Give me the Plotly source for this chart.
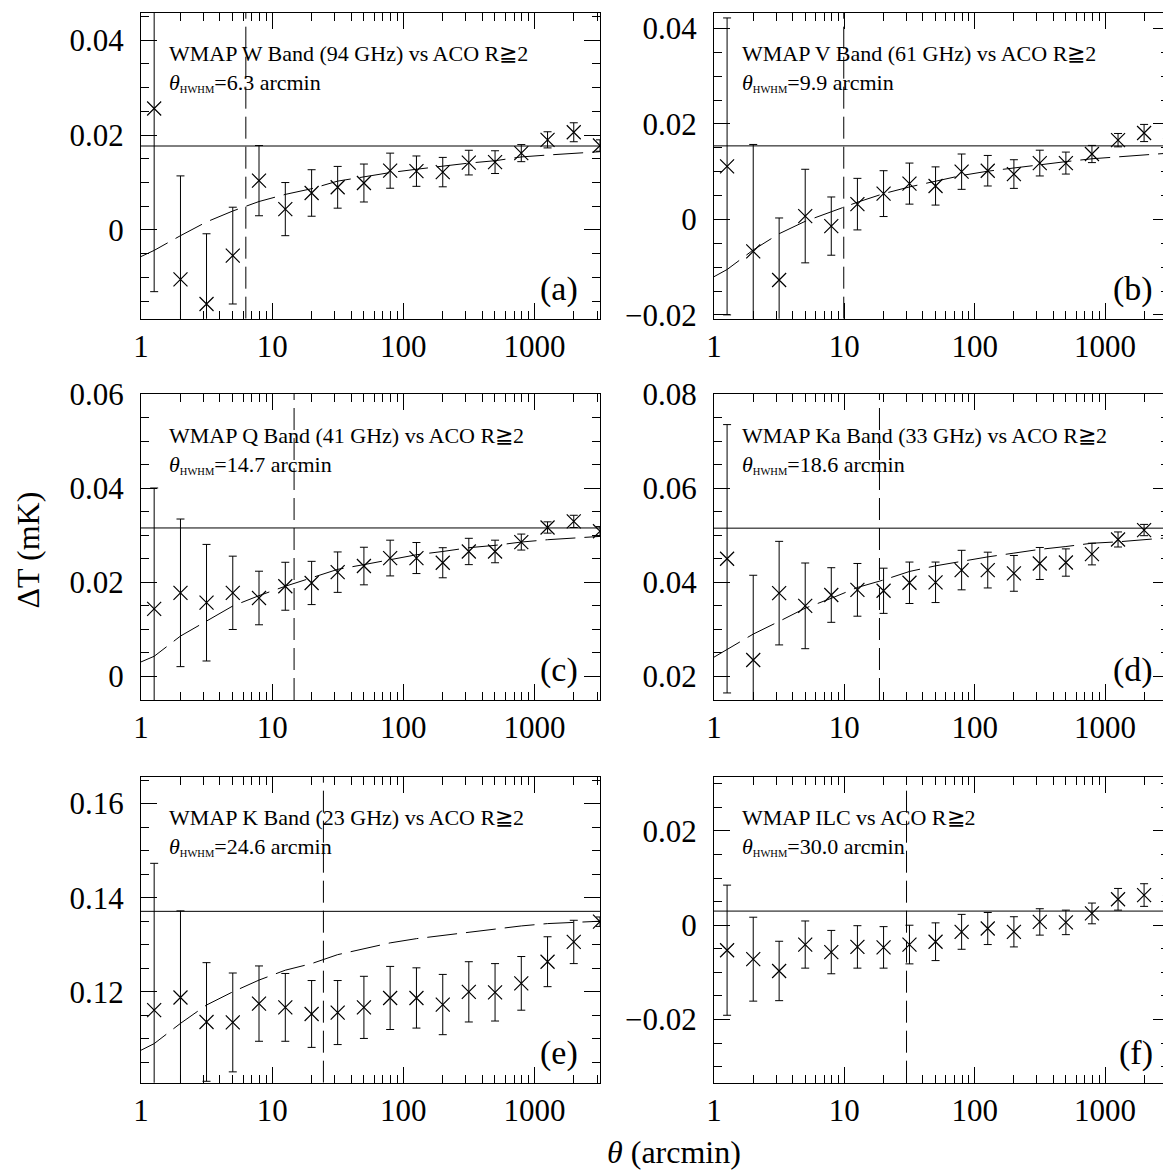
import plotly.graph_objects as go

# ---------------- data ----------------
theta = [1.26, 2.0, 3.16, 5.01, 7.94, 12.6, 20.0, 31.6, 50.1, 79.4,
         126, 200, 316, 501, 794, 1259, 1995, 3162]
model_theta = [1.0, 1.26, 2.0, 3.16, 5.01, 7.94, 12.6, 20.0, 31.6, 50.1,
               79.4, 126, 200, 316, 501, 794, 1259, 1995, 3162]

w_val = [0.0256, -0.0104, -0.0156, -0.0054, 0.0104, 0.0044, 0.0078, 0.0090, 0.0099,
         0.0125, 0.0124, 0.0122, 0.0142, 0.0143, 0.0162, 0.0190, 0.0206, 0.0178]
w_err = [0.0386, 0.0218, 0.0148, 0.0102, 0.0074, 0.0056, 0.0049, 0.0044, 0.0040,
         0.0037, 0.0032, 0.0031, 0.0026, 0.0024, 0.0018, 0.0017, 0.0020, 0.0012]
w_model = [-0.0056, -0.0043, -0.0012, 0.0017, 0.0040, 0.0060, 0.0075, 0.0087, 0.0103,
           0.0112, 0.0121, 0.0128, 0.0135, 0.0141, 0.0146, 0.0154, 0.0158, 0.0161, 0.0165]

v_val = [0.0111, -0.0067, -0.0127, 0.0007, -0.0014, 0.0032, 0.0054, 0.0075, 0.0070,
         0.0100, 0.0102, 0.0095, 0.0118, 0.0118, 0.0137, 0.0166, 0.0181, 0.0155]
v_err = [0.0311, 0.0224, 0.0130, 0.0098, 0.0061, 0.0054, 0.0048, 0.0043, 0.0040,
         0.0037, 0.0032, 0.0030, 0.0027, 0.0023, 0.0018, 0.0014, 0.0018, 0.0012]
v_model = [-0.0120, -0.0105, -0.0064, -0.0030, -0.0004, 0.0016, 0.0036, 0.0054, 0.0068,
           0.0080, 0.0092, 0.0101, 0.0108, 0.0115, 0.0121, 0.0127, 0.0131, 0.0135, 0.0139]

q_val = [0.0143, 0.0177, 0.0156, 0.0177, 0.0166, 0.0191, 0.0198, 0.0221, 0.0234,
         0.0251, 0.0251, 0.0241, 0.0265, 0.0265, 0.0285, 0.0316, 0.0329, 0.0308]
q_err = [0.0257, 0.0157, 0.0124, 0.0078, 0.0057, 0.0051, 0.0046, 0.0043, 0.0040,
         0.0038, 0.0033, 0.0032, 0.0028, 0.0024, 0.0017, 0.0012, 0.0013, 0.0010]
q_model = [0.0030, 0.0042, 0.0085, 0.0117, 0.0149, 0.0171, 0.0191, 0.0209, 0.0227,
           0.0237, 0.0248, 0.0258, 0.0265, 0.0273, 0.0278, 0.0285, 0.0290, 0.0294, 0.0297]

ka_val = [0.0450, 0.0235, 0.0377, 0.0350, 0.0373, 0.0384, 0.0382, 0.0399, 0.0400,
          0.0426, 0.0426, 0.0419, 0.0440, 0.0442, 0.0460, 0.0491, 0.0511, 0.0510]
ka_err = [0.0285, 0.0180, 0.0110, 0.0091, 0.0058, 0.0056, 0.0048, 0.0044, 0.0043,
          0.0042, 0.0038, 0.0038, 0.0034, 0.0029, 0.0023, 0.0016, 0.0012, 0.0010]
ka_model = [0.0241, 0.0257, 0.0290, 0.0317, 0.0345, 0.0366, 0.0389, 0.0405, 0.0423,
            0.0435, 0.0445, 0.0454, 0.0462, 0.0470, 0.0476, 0.0483, 0.0486, 0.0491, 0.0495]

k_val = [0.1161, 0.1188, 0.1136, 0.1135, 0.1175, 0.1167, 0.1153, 0.1156, 0.1167,
         0.1187, 0.1187, 0.1173, 0.1200, 0.1199, 0.1218, 0.1264, 0.1306, 0.1349]
k_err = [0.0312, 0.0184, 0.0126, 0.0105, 0.0080, 0.0072, 0.0071, 0.0068, 0.0066,
         0.0067, 0.0064, 0.0064, 0.0064, 0.0061, 0.0057, 0.0053, 0.0046, 0.0010]
k_model = [0.1076, 0.1090, 0.1133, 0.1172, 0.1200, 0.1225, 0.1246, 0.1260, 0.1279,
           0.1292, 0.1304, 0.1313, 0.1320, 0.1327, 0.1334, 0.1340, 0.1345, 0.1347, 0.1350]

ilc_val = [-0.0053, -0.0072, -0.0097, -0.0041, -0.0057, -0.0046, -0.0047, -0.0041, -0.0035,
           -0.0014, -0.0007, -0.0014, 0.0007, 0.0006, 0.0025, 0.0055, 0.0064, 0.0050]
ilc_err = [0.0138, 0.0089, 0.0063, 0.0050, 0.0046, 0.0045, 0.0044, 0.0041, 0.0040,
           0.0037, 0.0034, 0.0032, 0.0028, 0.0026, 0.0022, 0.0023, 0.0024, 0.0020]

hline_levels = [0.0177, 0.0154, 0.0315, 0.0515, 0.1371, 0.0030]
hwhm = [6.3, 9.9, 14.7, 18.6, 24.6, 30.0]
band_labels = ["WMAP W Band (94 GHz) vs ACO R≧2",
               "WMAP V Band (61 GHz) vs ACO R≧2",
               "WMAP Q Band (41 GHz) vs ACO R≧2",
               "WMAP Ka Band (33 GHz) vs ACO R≧2",
               "WMAP K Band (23 GHz) vs ACO R≧2",
               "WMAP ILC vs ACO R≧2"]
panel_tags = ["(a)", "(b)", "(c)", "(d)", "(e)", "(f)"]
y_ranges = [[-0.0187, 0.0458], [-0.0208, 0.0433], [-0.0051, 0.0600],
            [0.0150, 0.0800], [0.1007, 0.1657], [-0.0334, 0.0315]]
x_tickvals = [1, 10, 100, 1000]
x_ticktext = ["1", "10", "100", "1000"]

values = [w_val, v_val, q_val, ka_val, k_val, ilc_val]
errors = [w_err, v_err, q_err, ka_err, k_err, ilc_err]
models = [w_model, v_model, q_model, ka_model, k_model, None]

# ---------------- geometry / style ----------------
W, H = 1163, 1173
col_px = [(141, 600), (714, 1163)]
x_ranges = [[0, 3.5], [0, 3.445]]
row_top_px = [12.7, 394.0, 776.7]
panel_h = 306.0
tag_right_px = [580, 1155]
FONT = "Liberation Serif"
BLACK = "black"

fig = go.Figure()
layout_axes = {}

for i in range(6):
    row, col = i // 2, i % 2
    n = i + 1
    xs = "x" if n == 1 else f"x{n}"
    ys = "y" if n == 1 else f"y{n}"
    xl, xr = col_px[col]
    top = row_top_px[row]
    bot = top + panel_h
    xdom = [xl / W, xr / W]
    ydom = [1 - bot / H, 1 - top / H]

    fig.add_trace(go.Scatter(x=[model_theta[0], theta[-1]], y=[hline_levels[i]] * 2,
                             mode="lines", line=dict(color=BLACK, width=1),
                             xaxis=xs, yaxis=ys, showlegend=False, hoverinfo="skip"))
    fig.add_trace(go.Scatter(x=[hwhm[i], hwhm[i]], y=y_ranges[i],
                             mode="lines", line=dict(color=BLACK, width=1, dash="22px,8px"),
                             xaxis=xs, yaxis=ys, showlegend=False, hoverinfo="skip"))
    if models[i] is not None:
        fig.add_trace(go.Scatter(x=model_theta, y=models[i], mode="lines",
                                 line=dict(color=BLACK, width=1, dash="30px,9px"),
                                 xaxis=xs, yaxis=ys, showlegend=False, hoverinfo="skip"))
    fig.add_trace(go.Scatter(x=theta, y=values[i], mode="markers",
                             marker=dict(symbol="x-thin", size=14, color=BLACK,
                                         line=dict(color=BLACK, width=1.2)),
                             error_y=dict(type="data", array=errors[i], visible=True,
                                          color=BLACK, thickness=1, width=4),
                             xaxis=xs, yaxis=ys, showlegend=False))

    xkey = "xaxis" if n == 1 else f"xaxis{n}"
    ykey = "yaxis" if n == 1 else f"yaxis{n}"
    layout_axes[xkey] = dict(
        type="log", range=x_ranges[col], domain=xdom, anchor=ys, automargin=False,
        tickmode="array", tickvals=x_tickvals, ticktext=x_ticktext,
        ticks="inside", ticklen=16, tickwidth=1, tickcolor=BLACK,
        minor=dict(ticks="inside", ticklen=8, tickwidth=1, tickcolor=BLACK,
                   dtick="D1", showgrid=False),
        showline=True, linecolor=BLACK, linewidth=1.2, mirror="ticks",
        showgrid=False, zeroline=False,
        tickfont=dict(family=FONT, size=31, color=BLACK),
        ticklabelstandoff=0,
    )
    layout_axes[ykey] = dict(
        range=y_ranges[i], domain=ydom, anchor=xs, automargin=False,
        tick0=0, dtick=0.02,
        ticks="inside", ticklen=16, tickwidth=1, tickcolor=BLACK,
        minor=dict(ticks="inside", ticklen=8, tickwidth=1, tickcolor=BLACK,
                   dtick=0.005, showgrid=False),
        showline=True, linecolor=BLACK, linewidth=1.2,
        mirror="ticks" if col == 0 else False,
        showgrid=False, zeroline=False,
        tickfont=dict(family=FONT, size=31, color=BLACK),
        ticklabelstandoff=10,
    )
    if col == 1:
        ov = 6 + row + 1
        layout_axes[f"yaxis{ov}"] = dict(
            range=y_ranges[i], overlaying=ys, anchor=xs, side="right", automargin=False,
            tick0=0, dtick=0.02, ticks="inside", ticklen=10, tickwidth=1, tickcolor=BLACK,
            minor=dict(ticks="inside", ticklen=2, tickwidth=1, tickcolor=BLACK, dtick=0.005),
            showline=False, showticklabels=False, showgrid=False, zeroline=False,
        )
        fig.add_trace(go.Scatter(x=[None], y=[None], xaxis=xs, yaxis=f"y{ov}",
                                 mode="markers", showlegend=False, hoverinfo="skip"))

    wpx = xr - xl
    fig.add_annotation(xref=f"{xs} domain", yref=f"{ys} domain",
                       x=26 / wpx, y=1 - 41 / panel_h, xanchor="left", yanchor="middle",
                       text=band_labels[i], showarrow=False,
                       font=dict(family=FONT, size=22, color=BLACK))
    fig.add_annotation(xref=f"{xs} domain", yref=f"{ys} domain",
                       x=26 / wpx, y=1 - 70 / panel_h, xanchor="left", yanchor="middle",
                       text=f"<i>θ</i><span style='font-size:15px'><sub>HWHM</sub></span>={hwhm[i]:.1f} arcmin",
                       showarrow=False, font=dict(family=FONT, size=22, color=BLACK))
    fig.add_annotation(xref=f"{xs} domain", yref=f"{ys} domain",
                       x=(tag_right_px[col] - xl) / wpx, y=30 / panel_h,
                       xanchor="right", yanchor="middle", text=panel_tags[i],
                       showarrow=False, font=dict(family=FONT, size=34, color=BLACK))

fig.add_annotation(xref="paper", yref="paper", x=27.5 / W, y=1 - 550 / H,
                   text="ΔT (mK)", textangle=-90, showarrow=False,
                   xanchor="center", yanchor="middle",
                   font=dict(family=FONT, size=32, color=BLACK))
fig.add_annotation(xref="paper", yref="paper", x=674 / W, y=1 - 1152 / H,
                   text="<i>θ</i> (arcmin)", showarrow=False,
                   xanchor="center", yanchor="middle",
                   font=dict(family=FONT, size=32, color=BLACK))

fig.update_layout(
    width=W, height=H, margin=dict(l=0, r=0, t=0, b=0, pad=0, autoexpand=False),
    paper_bgcolor="white", plot_bgcolor="white", showlegend=False,
    **layout_axes,
)

fig.write_html("out.html")
